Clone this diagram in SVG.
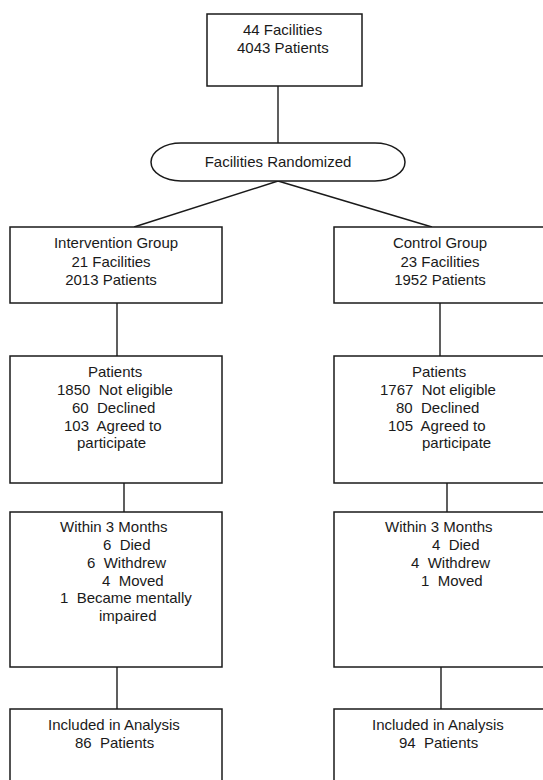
<svg xmlns="http://www.w3.org/2000/svg" width="543" height="780" viewBox="0 0 543 780">
<style>
  .box { fill: #fff; stroke: #1a1a1a; stroke-width: 1.5; }
  .ln { stroke: #1a1a1a; stroke-width: 1.4; fill: none; }
  text { font-family: "Liberation Sans", Arial, sans-serif; font-size: 15px; fill: #1a1a1a; white-space: pre; }
</style>
<rect x="0" y="0" width="543" height="780" fill="#fff"/>
<g id="connectors">
  <line class="ln" x1="278" y1="86" x2="278" y2="143"/>
  <line class="ln" x1="278" y1="181" x2="134" y2="227"/>
  <line class="ln" x1="278" y1="181" x2="432" y2="227"/>
  <line class="ln" x1="117" y1="303" x2="117" y2="356"/>
  <line class="ln" x1="440" y1="303" x2="440" y2="356"/>
  <line class="ln" x1="124" y1="483" x2="124" y2="512"/>
  <line class="ln" x1="447" y1="483" x2="447" y2="512"/>
  <line class="ln" x1="117" y1="667" x2="117" y2="709"/>
  <line class="ln" x1="441" y1="667" x2="441" y2="709"/>
</g>
<g id="start">
  <rect class="box" x="207" y="14" width="155" height="72"/>
  <text x="243" y="35">44 Facilities</text>
  <text x="237" y="53">4043 Patients</text>
</g>
<g id="randomized">
  <rect class="box" x="151" y="143" width="254" height="38" rx="30" ry="19"/>
  <text x="278" y="167" text-anchor="middle">Facilities Randomized</text>
</g>
<g id="intervention">
  <rect class="box" x="10" y="227" width="212" height="76"/>
  <text x="116" y="248" text-anchor="middle">Intervention Group</text>
  <text x="111" y="267" text-anchor="middle">21 Facilities</text>
  <text x="111" y="285" text-anchor="middle">2013 Patients</text>
</g>
<g id="control">
  <rect class="box" x="334" y="227" width="212" height="76"/>
  <text x="440" y="248" text-anchor="middle">Control Group</text>
  <text x="440" y="267" text-anchor="middle">23 Facilities</text>
  <text x="440" y="285" text-anchor="middle">1952 Patients</text>
</g>
<g id="int-patients">
  <rect class="box" x="10" y="356" width="212" height="127"/>
  <text x="88" y="377">Patients</text>
  <text x="57" y="395">1850  Not eligible</text>
  <text x="72" y="413">60  Declined</text>
  <text x="64" y="431">103  Agreed to</text>
  <text x="77" y="448">participate</text>
</g>
<g id="ctl-patients">
  <rect class="box" x="334" y="356" width="212" height="127"/>
  <text x="412" y="377">Patients</text>
  <text x="380" y="395">1767  Not eligible</text>
  <text x="396" y="413">80  Declined</text>
  <text x="388" y="431">105  Agreed to</text>
  <text x="422" y="448">participate</text>
</g>
<g id="int-3months">
  <rect class="box" x="10" y="512" width="212" height="155"/>
  <text x="60" y="532">Within 3 Months</text>
  <text x="103" y="550">6  Died</text>
  <text x="87" y="568">6  Withdrew</text>
  <text x="102" y="586">4  Moved</text>
  <text x="60" y="603">1  Became mentally</text>
  <text x="99" y="621">impaired</text>
</g>
<g id="ctl-3months">
  <rect class="box" x="334" y="512" width="212" height="155"/>
  <text x="385" y="532">Within 3 Months</text>
  <text x="432" y="550">4  Died</text>
  <text x="411" y="568">4  Withdrew</text>
  <text x="421" y="586">1  Moved</text>
</g>
<g id="int-analysis">
  <rect class="box" x="10" y="709" width="212" height="90"/>
  <text x="48" y="730">Included in Analysis</text>
  <text x="75" y="748">86  Patients</text>
</g>
<g id="ctl-analysis">
  <rect class="box" x="334" y="709" width="212" height="90"/>
  <text x="372" y="730">Included in Analysis</text>
  <text x="399" y="748">94  Patients</text>
</g>
</svg>
